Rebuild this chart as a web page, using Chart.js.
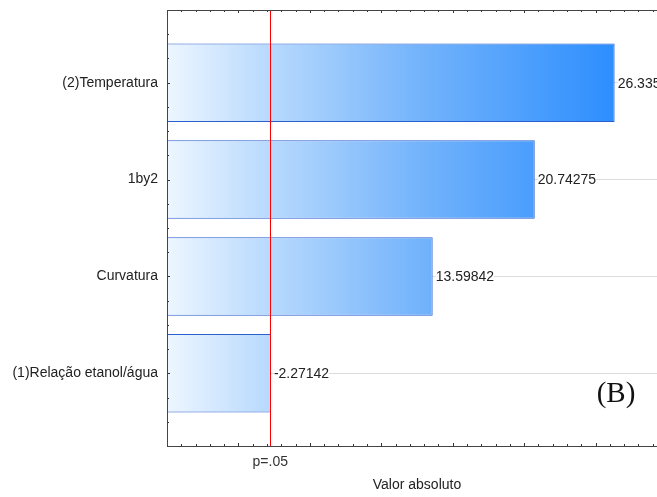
<!DOCTYPE html>
<html>
<head>
<meta charset="utf-8">
<script src="https://cdn.jsdelivr.net/npm/chart.js@4/dist/chart.umd.min.js"></script>
<style>
  html, body { margin: 0; padding: 0; background: #fff; overflow: hidden; }
  #wrap { width: 700px; height: 497px; }
</style>
</head>
<body>
<div id="wrap"><canvas id="paretoChart" width="700" height="497"></canvas></div>
<script>
// Pareto chart of standardized effects
const effectNames = ["(2)Temperatura", "1by2", "Curvatura", "(1)Relação etanol/água"];
const effectValues = [26.335, 20.74275, 13.59842, -2.27142];
const pCritical = 2.228;
const pLabel = "p=.05";
const xMin = -5;
const xMax = 30;

const FONT = "'Liberation Sans', Arial, sans-serif";

const points = effectValues.map((v, i) => ({ x: Math.abs(v), y: i + 1 }));

// value labels to the right of each bar, on a white backing
const valueLabels = {
    id: "valueLabels",
    afterDatasetsDraw(chart) {
        const ctx = chart.ctx;
        const meta = chart.getDatasetMeta(0);
        ctx.save();
        ctx.font = "14px " + FONT;
        ctx.textBaseline = "middle";
        ctx.textAlign = "left";
        meta.data.forEach((bar, i) => {
            const txt = String(effectValues[i]);
            const w = ctx.measureText(txt).width;
            const x = bar.x + 3;
            ctx.fillStyle = "#fff";
            ctx.fillRect(x, bar.y - 7, w, 14);
            ctx.fillStyle = "#222";
            ctx.fillText(txt, x, bar.y + 1);
        });
        ctx.restore();
    }
};

// significance line, frame and inner tick marks
const frame = {
    id: "frame",
    afterDraw(chart) {
        const ctx = chart.ctx;
        const a = chart.chartArea;
        const xs = chart.scales.x;
        const ys = chart.scales.y;
        ctx.save();

        const px = Math.round(xs.getPixelForValue(pCritical)) + 0.5;
        ctx.strokeStyle = "#ff0000";
        ctx.lineWidth = 1;
        ctx.beginPath();
        ctx.moveTo(px, a.top);
        ctx.lineTo(px, a.bottom);
        ctx.stroke();

        ctx.strokeStyle = "#333";
        ctx.beginPath();
        for (let v = xMin; v <= xMax; v++) {
            const x = Math.round(xs.getPixelForValue(v)) + 0.5;
            const len = v % 5 === 0 ? 3 : 2;
            ctx.moveTo(x, a.top);
            ctx.lineTo(x, a.top + len);
            ctx.moveTo(x, a.bottom);
            ctx.lineTo(x, a.bottom - len);
        }
        for (let v = ys.min; v <= ys.max + 1e-9; v += 0.25) {
            const y = Math.round(ys.getPixelForValue(v)) + 0.5;
            const len = Number.isInteger(v) ? 3 : 2;
            ctx.moveTo(a.left, y);
            ctx.lineTo(a.left + len, y);
        }
        ctx.stroke();

        ctx.strokeStyle = "#444";
        ctx.strokeRect(Math.round(a.left) + 0.5, Math.round(a.top) + 0.5,
            Math.round(a.right - a.left), Math.round(a.bottom - a.top));

        // panel letter
        ctx.font = "29px 'Liberation Serif', 'Times New Roman', serif";
        ctx.textAlign = "center";
        ctx.textBaseline = "middle";
        const tx = a.right - 51, ty = a.bottom - 53;
        const tw = ctx.measureText("(B)").width;
        ctx.fillStyle = "#fff";
        ctx.fillRect(tx - tw / 2 - 1, ty - 18, tw + 2, 36);
        ctx.fillStyle = "#111";
        ctx.fillText("(B)", tx, ty + 1);

        ctx.restore();
    }
};

function barGradient(context) {
    const chart = context.chart;
    const a = chart.chartArea;
    if (!a) return "#6fb1fb";
    const g = chart.ctx.createLinearGradient(a.left, 0, a.right, 0);
    g.addColorStop(0, "#edf6ff");
    g.addColorStop(0.2, "#b9dafd");
    g.addColorStop(0.5, "#74b4fb");
    g.addColorStop(1, "#1a84ff");
    return g;
}

new Chart(document.getElementById("paretoChart"), {
    type: "bar",
    data: {
        datasets: [{
            data: points,
            base: xMin,
            backgroundColor: barGradient,
            borderColor: "#2a5fd0",
            borderWidth: 1,
            barPercentage: 0.81,
            categoryPercentage: 1
        }]
    },
    options: {
        indexAxis: "y",
        responsive: false,
        animation: false,
        layout: { padding: { top: 10, right: 33, left: 0, bottom: 0 } },
        plugins: {
            legend: { display: false },
            tooltip: { enabled: false }
        },
        scales: {
            x: {
                type: "linear",
                min: xMin,
                max: xMax,
                grid: { display: false, drawTicks: false },
                border: { display: false },
                afterBuildTicks: scale => { scale.ticks = [{ value: pCritical }]; },
                afterFit: scale => {
                    scale.height = 51;
                    scale.paddingLeft = 0;
                    scale.paddingRight = 0;
                },
                ticks: {
                    callback: () => pLabel,
                    padding: 8,
                    color: "#333",
                    font: { family: FONT, size: 14 }
                },
                title: {
                    display: true,
                    text: "Valor absoluto",
                    color: "#222",
                    padding: { top: 0, bottom: 3 },
                    font: { family: FONT, size: 14 }
                }
            },
            y: {
                type: "linear",
                min: 0.25,
                max: 4.75,
                reverse: true,
                offset: false,
                afterBuildTicks: scale => {
                    scale.ticks = effectNames.map((n, i) => ({ value: i + 1 }));
                },
                afterFit: scale => {
                    scale.width = 167;
                    scale.paddingTop = 0;
                    scale.paddingBottom = 0;
                },
                grid: {
                    offset: false,
                    drawTicks: false,
                    color: "#dcdcdc"
                },
                border: { display: false },
                ticks: {
                    autoSkip: false,
                    padding: 9,
                    color: "#222",
                    font: { family: FONT, size: 14 },
                    callback: v => effectNames[v - 1]
                }
            }
        }
    },
    plugins: [valueLabels, frame]
});
</script>
</body>
</html>
